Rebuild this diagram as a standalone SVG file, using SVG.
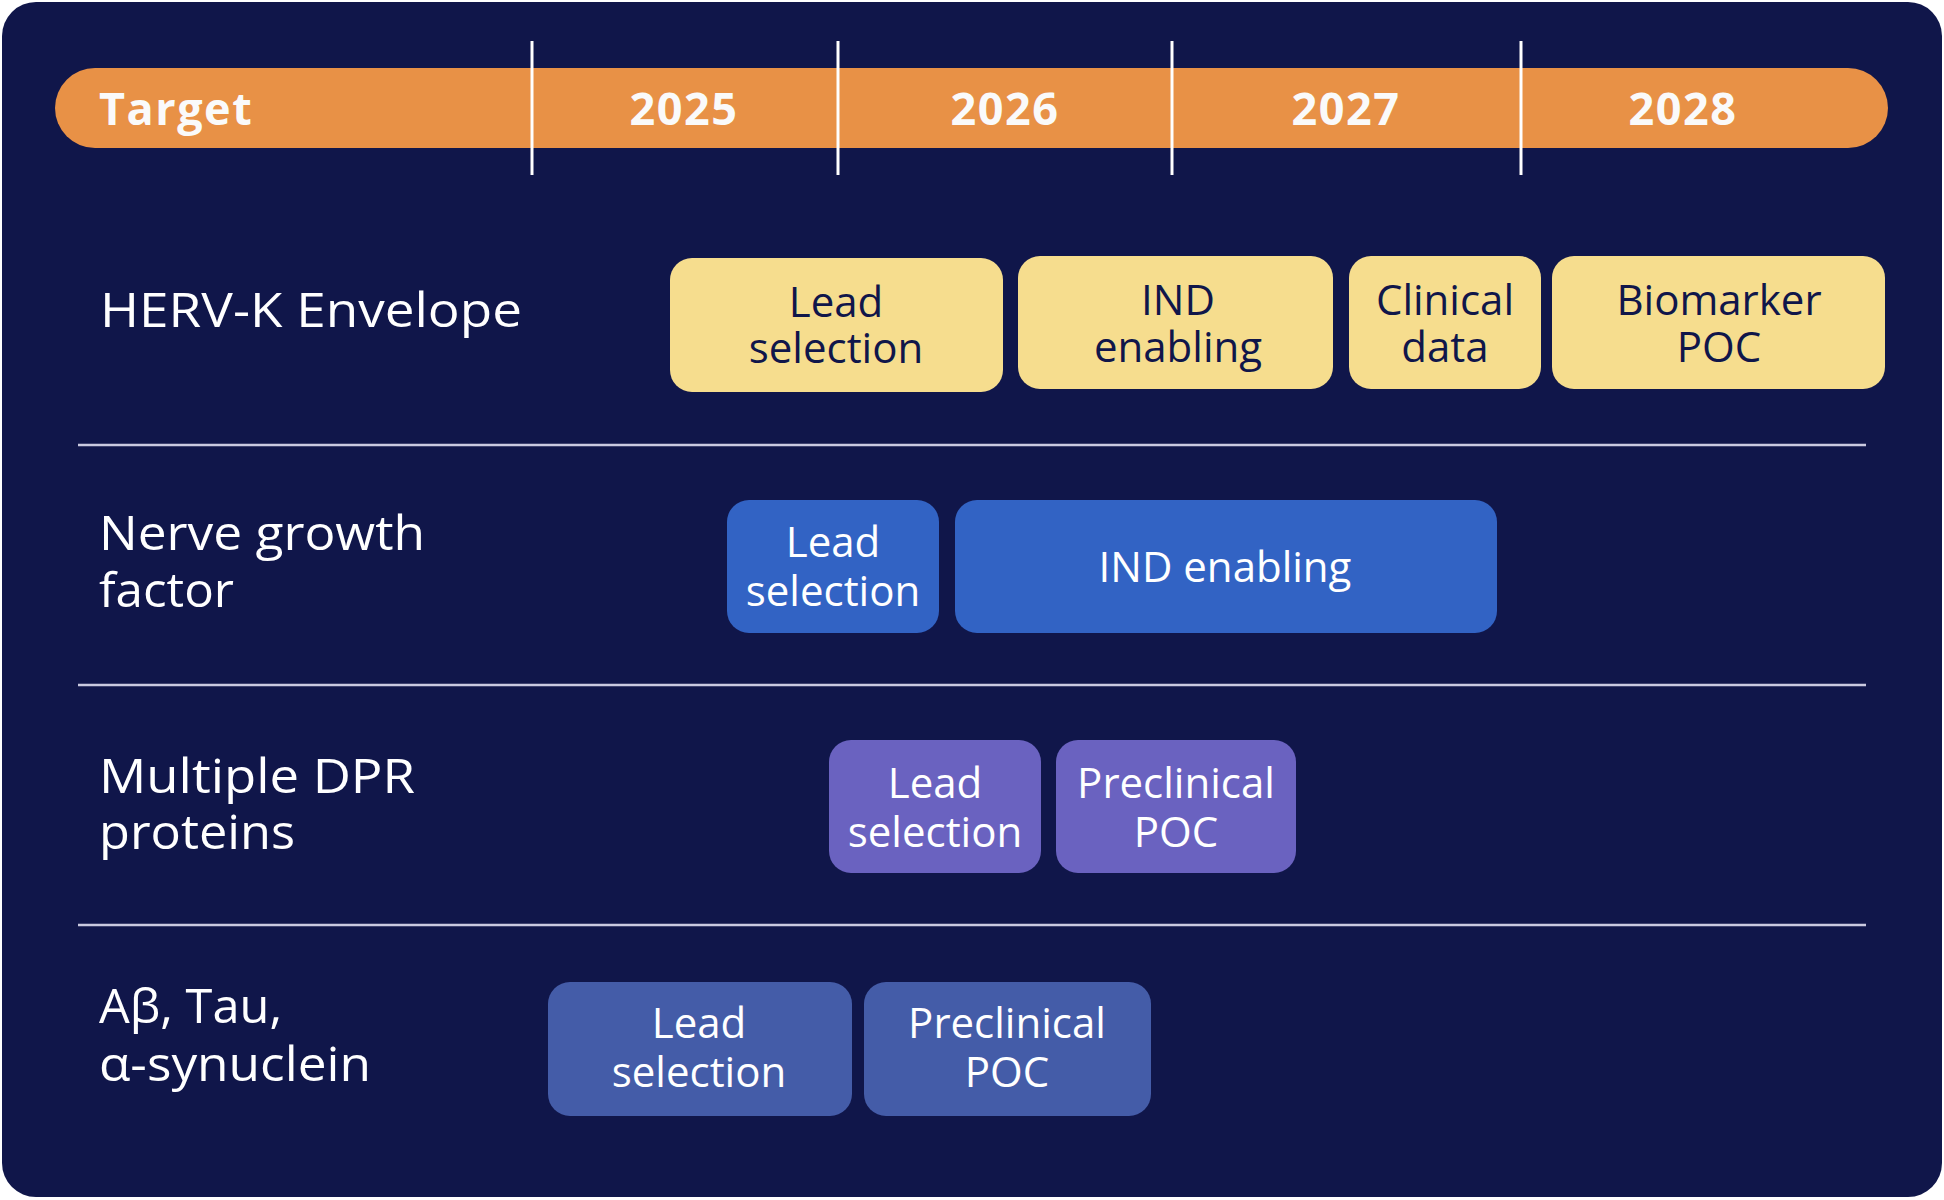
<svg xmlns="http://www.w3.org/2000/svg" width="1944" height="1200" viewBox="0 0 1944 1200">
  <style>
    .box { stroke: none; }
    .yel { fill: #F6DD8E; }
    .blu { fill: #3263C4; }
    .pur { fill: #6A62C0; }
    .mut { fill: #445CA8; }
    .bt { font-family: "Open Sans", "Noto Sans", "DejaVu Sans", sans-serif; font-size: 42px; text-anchor: middle; }
    .dark { fill: #10164A; }
    .light { fill: #FFFFFF; }
    .lbl { font-family: "Open Sans", "Noto Sans", "DejaVu Sans", sans-serif; font-size: 48px; fill: #FFFFFF; }
    .hdr { font-family: "Open Sans", "Noto Sans", "DejaVu Sans", sans-serif; font-size: 45px; font-weight: bold; fill: #FAFAFA; letter-spacing: 1.5px; }
    .sep { stroke: #CACAE0; stroke-width: 2.5; }
    .tick { stroke: #FFFFFF; stroke-width: 3; }
  </style>
  <rect width="1944" height="1200" fill="#FFFFFF"/>
  <rect id="background" x="2" y="2" width="1940" height="1195" rx="34" ry="34" fill="#10164A"/>

  <g id="header">
    <rect x="55" y="68" width="1833" height="80" rx="40" ry="40" fill="#E89146"/>
    <text class="hdr" x="99" y="125">Target</text>
    <text class="hdr" x="684" y="125" text-anchor="middle">2025</text>
    <text class="hdr" x="1005" y="125" text-anchor="middle">2026</text>
    <text class="hdr" x="1346" y="125" text-anchor="middle">2027</text>
    <text class="hdr" x="1683" y="125" text-anchor="middle">2028</text>
  </g>

  <g id="connectors">
    <line class="tick" x1="532" y1="41" x2="532" y2="175"/>
    <line class="tick" x1="838" y1="41" x2="838" y2="175"/>
    <line class="tick" x1="1172" y1="41" x2="1172" y2="175"/>
    <line class="tick" x1="1521" y1="41" x2="1521" y2="175"/>
    <line class="sep" x1="78" y1="445" x2="1866" y2="445"/>
    <line class="sep" x1="78" y1="685" x2="1866" y2="685"/>
    <line class="sep" x1="78" y1="925" x2="1866" y2="925"/>
  </g>

  <g id="labels">
    <text id="label-herv" class="lbl" x="100" y="327" textLength="422" lengthAdjust="spacingAndGlyphs">HERV-K Envelope</text>
    <text id="label-ngf" class="lbl" x="99" y="550"><tspan x="99" textLength="326" lengthAdjust="spacingAndGlyphs">Nerve growth</tspan><tspan x="99" y="607" textLength="135" lengthAdjust="spacingAndGlyphs">factor</tspan></text>
    <text id="label-dpr" class="lbl" x="99" y="793"><tspan x="99" textLength="316" lengthAdjust="spacingAndGlyphs">Multiple DPR</tspan><tspan x="99" y="849" textLength="196" lengthAdjust="spacingAndGlyphs">proteins</tspan></text>
    <text id="label-abeta" class="lbl" x="99" y="1023"><tspan x="99" textLength="183" lengthAdjust="spacingAndGlyphs">Aβ, Tau,</tspan><tspan x="99" y="1081" textLength="272" lengthAdjust="spacingAndGlyphs">α-synuclein</tspan></text>
  </g>

  <g id="herv-lead">
    <rect class="box yel" x="670" y="258" width="333" height="134" rx="22"/>
    <text class="bt dark"><tspan x="836" y="317">Lead</tspan><tspan x="836" y="363">selection</tspan></text>
  </g>
  <g id="herv-ind">
    <rect class="box yel" x="1018" y="256" width="315" height="133" rx="22"/>
    <text class="bt dark"><tspan x="1178" y="315">IND</tspan><tspan x="1178" y="362">enabling</tspan></text>
  </g>
  <g id="herv-clinical">
    <rect class="box yel" x="1349" y="256" width="192" height="133" rx="22"/>
    <text class="bt dark"><tspan x="1445" y="315">Clinical</tspan><tspan x="1445" y="362">data</tspan></text>
  </g>
  <g id="herv-biomarker">
    <rect class="box yel" x="1552" y="256" width="333" height="133" rx="22"/>
    <text class="bt dark"><tspan x="1719" y="315">Biomarker</tspan><tspan x="1719" y="362">POC</tspan></text>
  </g>

  <g id="ngf-lead">
    <rect class="box blu" x="727" y="500" width="212" height="133" rx="22"/>
    <text class="bt light"><tspan x="833" y="557">Lead</tspan><tspan x="833" y="606">selection</tspan></text>
  </g>
  <g id="ngf-ind">
    <rect class="box blu" x="955" y="500" width="542" height="133" rx="22"/>
    <text class="bt light" x="1225" y="582">IND enabling</text>
  </g>

  <g id="dpr-lead">
    <rect class="box pur" x="829" y="740" width="212" height="133" rx="22"/>
    <text class="bt light"><tspan x="935" y="798">Lead</tspan><tspan x="935" y="847">selection</tspan></text>
  </g>
  <g id="dpr-preclinical">
    <rect class="box pur" x="1056" y="740" width="240" height="133" rx="22"/>
    <text class="bt light"><tspan x="1176" y="798">Preclinical</tspan><tspan x="1176" y="847">POC</tspan></text>
  </g>

  <g id="abeta-lead">
    <rect class="box mut" x="548" y="982" width="304" height="134" rx="22"/>
    <text class="bt light"><tspan x="699" y="1038">Lead</tspan><tspan x="699" y="1087">selection</tspan></text>
  </g>
  <g id="abeta-preclinical">
    <rect class="box mut" x="864" y="982" width="287" height="134" rx="22"/>
    <text class="bt light"><tspan x="1007" y="1038">Preclinical</tspan><tspan x="1007" y="1087">POC</tspan></text>
  </g>
</svg>
